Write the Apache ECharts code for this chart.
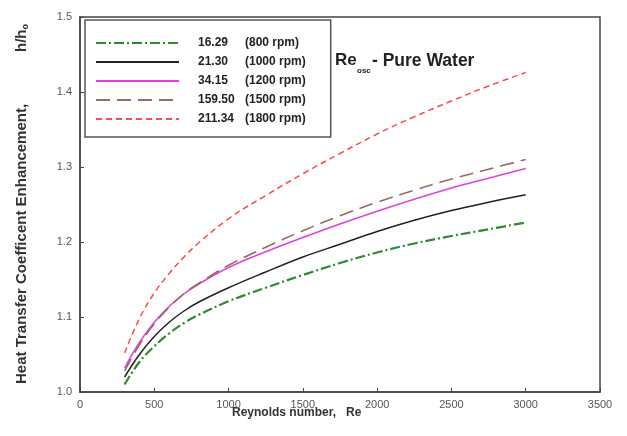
<!DOCTYPE html>
<html>
<head>
<meta charset="utf-8">
<script src="https://cdn.jsdelivr.net/npm/echarts@6/dist/echarts.min.js"></script>
<style>
  html, body { margin: 0; padding: 0; background: #fff; }
  #chart { width: 627px; height: 436px; }
</style>
</head>
<body>
<div id="chart"></div>
<script>
const reValues = [300, 400, 500, 600, 700, 800, 1000, 1250, 1500, 1750, 2000, 2250, 2500, 2750, 3000];

// h/ho for each oscillating Reynolds number
const h800  = [1.010, 1.040, 1.061, 1.078, 1.092, 1.103, 1.121, 1.139, 1.156, 1.172, 1.186, 1.198, 1.208, 1.217, 1.226];
const h1000 = [1.020, 1.050, 1.074, 1.093, 1.108, 1.120, 1.139, 1.160, 1.180, 1.197, 1.214, 1.229, 1.242, 1.253, 1.263];
const h1200 = [1.032, 1.066, 1.093, 1.114, 1.131, 1.144, 1.166, 1.187, 1.206, 1.224, 1.241, 1.257, 1.272, 1.285, 1.298];
const h1500 = [1.028, 1.063, 1.091, 1.113, 1.131, 1.145, 1.169, 1.193, 1.215, 1.235, 1.253, 1.269, 1.284, 1.297, 1.310];
const h1800 = [1.052, 1.098, 1.132, 1.158, 1.180, 1.199, 1.231, 1.262, 1.291, 1.318, 1.344, 1.367, 1.388, 1.408, 1.426];

const seriesNames = ['16.29 (800 rpm)', '21.30 (1000 rpm)', '34.15 (1200 rpm)', '159.50 (1500 rpm)', '211.34 (1800 rpm)'];
const xTicks = [0, 500, 1000, 1500, 2000, 2500, 3000, 3500];
const yTicks = [1.0, 1.1, 1.2, 1.3, 1.4, 1.5];

function pairs(ys) {
    return reValues.map((x, i) => [x, ys[i]]);
}

const chart = echarts.init(document.getElementById('chart'));

const option = {
    animation: false,
    backgroundColor: '#fff',
    grid: {
        left: 80, right: 27, top: 17, bottom: 44,
        show: true,
        borderColor: '#444',
        borderWidth: 1.5
    },
    xAxis: {
        type: 'value',
        min: xTicks[0],
        max: xTicks[xTicks.length - 1],
        interval: 500,
        axisLine: { show: true, lineStyle: { color: '#444', width: 1.5 } },
        axisTick: { show: true, inside: true, length: 4, lineStyle: { color: '#444' } },
        axisLabel: { color: '#555', fontSize: 11, margin: 7, fontFamily: 'Liberation Sans', formatter: v => String(v) },
        splitLine: { show: false }
    },
    yAxis: {
        type: 'value',
        min: yTicks[0],
        max: yTicks[yTicks.length - 1],
        interval: 0.1,
        axisLine: { show: true, lineStyle: { color: '#444', width: 1.5 } },
        axisTick: { show: true, inside: true, length: 4, lineStyle: { color: '#444' } },
        axisLabel: {
            color: '#555', fontSize: 11, margin: 8, fontFamily: 'Liberation Sans',
            formatter: v => v.toFixed(1)
        },
        splitLine: { show: false }
    },
    legend: {
        orient: 'vertical',
        left: 85, top: 20,
        padding: [17, 25, 12, 10],
        itemWidth: 83, itemHeight: 14, itemGap: 7,
        backgroundColor: '#fff',
        borderColor: '#555', borderWidth: 1.5,
        itemStyle: { opacity: 0 },
        data: seriesNames,
        formatter: name => {
            const p = name.split(' ');
            return '{a|' + p[0] + '}{b|' + p.slice(1).join(' ') + '}';
        },
        textStyle: {
            color: '#222', fontSize: 12, fontWeight: 'bold', fontFamily: 'Liberation Sans',
            rich: {
                a: { width: 47, padding: [0, 0, 0, 14], fontSize: 12, fontWeight: 'bold', color: '#222' },
                b: { width: 76, fontSize: 12, fontWeight: 'bold', color: '#222' }
            }
        }
    },
    graphic: [
        { type: 'text', left: 335, top: 52, style: { text: 'Re', fontSize: 17, fontWeight: 'bold', fill: '#222', fontFamily: 'Liberation Sans' } },
        { type: 'text', left: 357, top: 67, style: { text: 'osc', fontSize: 8, fontWeight: 'bold', fill: '#222', fontFamily: 'Liberation Sans' } },
        { type: 'text', left: 372, top: 52, style: { text: '- Pure Water', fontSize: 17.5, fontWeight: 'bold', fill: '#222', fontFamily: 'Liberation Sans' } },
        { type: 'text', left: 232, top: 407, style: { text: 'Reynolds number,   Re', fontSize: 12, fontWeight: 'bold', fill: '#333', fontFamily: 'Liberation Sans' } },
        {
            type: 'text', x: 22, y: 384, rotation: Math.PI / 2,
            style: {
                text: 'Heat Transfer Coefficent Enhancement,',
                fontSize: 15, fontWeight: 'bold', fill: '#333', fontFamily: 'Liberation Sans',
                align: 'left', verticalAlign: 'middle'
            }
        },
        {
            type: 'text', x: 22, y: 52, rotation: Math.PI / 2,
            style: {
                text: 'h/h{sub|o}',
                fontSize: 15, fontWeight: 'bold', fill: '#333', fontFamily: 'Liberation Sans',
                align: 'left', verticalAlign: 'middle',
                rich: { sub: { fontSize: 9, fontWeight: 'bold', fill: '#333', padding: [8, 0, 0, 0] } }
            }
        }
    ],
    series: [
        {
            name: seriesNames[0], type: 'line', smooth: 0.4, symbol: 'none',
            lineStyle: { color: '#2e8b2e', width: 2.2, type: [10, 3, 2, 3] },
            itemStyle: { color: '#2e8b2e' },
            data: pairs(h800)
        },
        {
            name: seriesNames[1], type: 'line', smooth: 0.4, symbol: 'none',
            lineStyle: { color: '#222', width: 1.5, type: 'solid' },
            itemStyle: { color: '#222' },
            data: pairs(h1000)
        },
        {
            name: seriesNames[2], type: 'line', smooth: 0.4, symbol: 'none',
            lineStyle: { color: '#e040e0', width: 1.5, type: 'solid' },
            itemStyle: { color: '#e040e0' },
            data: pairs(h1200)
        },
        {
            name: seriesNames[3], type: 'line', smooth: 0.4, symbol: 'none',
            lineStyle: { color: '#9b6a5c', width: 1.6, type: [14, 7] },
            itemStyle: { color: '#9b6a5c' },
            data: pairs(h1500)
        },
        {
            name: seriesNames[4], type: 'line', smooth: 0.4, symbol: 'none',
            lineStyle: { color: '#ff4a4a', width: 1.5, type: [6, 4] },
            itemStyle: { color: '#ff4a4a' },
            data: pairs(h1800)
        }
    ]
};

chart.setOption(option);
</script>
</body>
</html>
